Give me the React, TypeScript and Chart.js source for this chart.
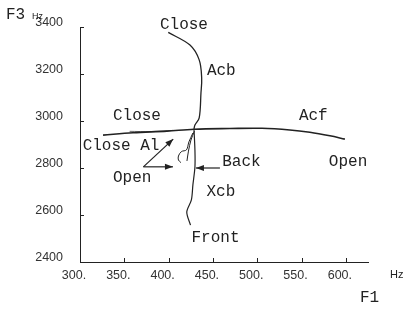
import React, { useEffect, useRef } from "react";
import { Chart, registerables } from "chart.js";

Chart.register(...registerables);

// F1 (Hz) / F3 (Hz) traces
const acbF1 = [399.6, 424.1, 434.5, 437.3, 436.5, 434.5, 429.7, 428.6];
const acbF3 = [3377, 3323, 3260, 3183, 3119, 3013, 2983, 2966];

const alfF1 = [326, 359.8, 398.1, 428.6, 469.2, 505.3, 536.8, 559.4, 582, 598.9];
const alfF3 = [2940, 2950, 2957, 2965, 2968, 2969, 2962, 2952, 2937, 2923];

const alDoubleF1 = [356, 380, 405];
const alDoubleF3 = [2956, 2955, 2960];

const xcbF1 = [428.6, 429.7, 429.7, 427.4, 425.7, 420.5, 424.7];
const xcbF3 = [2966, 2877, 2804, 2728, 2664, 2613, 2557];

const wiggle1F1 = [429.1, 425.2, 422.4, 420.7];
const wiggle1F3 = [2957, 2919, 2872, 2830];

const wiggle2F1 = [427.4, 422.9, 420.1, 414.5, 411.1, 411.1, 413.9];
const wiggle2F3 = [2949, 2911, 2877, 2870, 2851, 2834, 2823];

const arrowUpF1 = [371.5, 405.2];
const arrowUpF3 = [2805, 2923];
const arrowRightF1 = [371.5, 404.9];
const arrowRightF3 = [2805, 2805];
const arrowBackF1 = [457.9, 430.8];
const arrowBackF3 = [2800, 2800];

const xTickValues = [300, 350, 400, 450, 500, 550, 600];
const yTickValues = [2400, 2600, 2800, 3000, 3200, 3400];

const noteTexts = ["Close", "Acb", "Close", "Acf", "Close Al", "Open", "Back", "Open", "Xcb", "Front"];
const noteF1 = [390.2, 443.2, 337.2, 547, 303, 337.2, 460.5, 580.8, 442.7, 425.8];
const noteF3 = [3408, 3213, 3022, 3022, 2894, 2760, 2827, 2827, 2699, 2501];

const zip = (a: number[], b: number[]) => a.map((x, i) => ({ x, y: b[i] }));

const INK = "#222";

export default function App() {
  const ref = useRef<HTMLCanvasElement | null>(null);
  useEffect(() => {
    if (!ref.current) return;
    document.body.style.margin = "0";

    const line = (xs: number[], ys: number[], w: number, tension: number, extra: any = {}) => ({
      data: zip(xs, ys),
      showLine: true,
      borderColor: INK,
      borderWidth: w,
      pointRadius: 0,
      tension,
      fill: false,
      ...extra,
    });

    const decorPlugin = {
      id: "decor",
      afterDatasetsDraw(chart: any) {
        const ctx = chart.ctx;
        const xs = chart.scales.x;
        const ys = chart.scales.y;
        const area = chart.chartArea;
        ctx.save();
        // inward tick marks
        ctx.strokeStyle = INK;
        ctx.lineWidth = 1;
        ctx.beginPath();
        xTickValues.forEach((v) => {
          if (v === xs.min) return;
          const px = Math.round(xs.getPixelForValue(v)) + 0.5;
          ctx.moveTo(px, area.bottom);
          ctx.lineTo(px, area.bottom - 4);
        });
        yTickValues.forEach((v) => {
          if (v === ys.min) return;
          const py = Math.round(ys.getPixelForValue(v)) + 0.5;
          ctx.moveTo(area.left, py);
          ctx.lineTo(area.left + 4, py);
        });
        ctx.stroke();

        // arrowheads
        chart.data.datasets.forEach((ds: any, i: number) => {
          if (!ds.arrow) return;
          const pts = chart.getDatasetMeta(i).data;
          const a = pts[pts.length - 2];
          const b = pts[pts.length - 1];
          const ang = Math.atan2(b.y - a.y, b.x - a.x);
          const L = 8, W = 3;
          ctx.fillStyle = INK;
          ctx.beginPath();
          ctx.moveTo(b.x, b.y);
          ctx.lineTo(b.x - L * Math.cos(ang) + W * Math.sin(ang), b.y - L * Math.sin(ang) - W * Math.cos(ang));
          ctx.lineTo(b.x - L * Math.cos(ang) - W * Math.sin(ang), b.y - L * Math.sin(ang) + W * Math.cos(ang));
          ctx.closePath();
          ctx.fill();
        });

        // annotations
        ctx.fillStyle = INK;
        ctx.font = "16px 'Liberation Mono'";
        ctx.textAlign = "left";
        ctx.textBaseline = "middle";
        noteTexts.forEach((t, i) => {
          ctx.fillText(t, xs.getPixelForValue(noteF1[i]), ys.getPixelForValue(noteF3[i]));
        });

        // axis titles
        ctx.font = "16px 'Liberation Mono'";
        ctx.fillText("F3", area.left - 74, area.top - 12);
        ctx.fillText("F1", area.right - 8, area.bottom + 36);
        ctx.font = "9px 'Liberation Sans'";
        ctx.fillText("Hz", area.left - 48, area.top - 10);
        ctx.font = "11px 'Liberation Sans'";
        ctx.fillText("Hz", area.right + 22, area.bottom + 13);
        ctx.restore();
      },
    };

    const chart = new Chart(ref.current, {
      type: "scatter",
      data: {
        datasets: [
          line(acbF1, acbF3, 1.3, 0.35),
          line(alfF1, alfF3, 1.6, 0.35),
          line(alDoubleF1, alDoubleF3, 1, 0.3, { borderColor: "#666" }),
          line(xcbF1, xcbF3, 1.2, 0.3),
          line(wiggle1F1, wiggle1F3, 1, 0.3),
          line(wiggle2F1, wiggle2F3, 1, 0.35),
          line(arrowUpF1, arrowUpF3, 1.2, 0, { arrow: true }),
          line(arrowRightF1, arrowRightF3, 1.2, 0, { arrow: true }),
          line(arrowBackF1, arrowBackF3, 1.2, 0, { arrow: true }),
        ] as any,
      },
      options: {
        animation: false,
        responsive: false,
        devicePixelRatio: 1,
        layout: { padding: { left: 0, top: 27, right: 37, bottom: 0 } },
        plugins: { legend: { display: false }, tooltip: { enabled: false } },
        scales: {
          x: {
            type: "linear",
            min: 300,
            max: 625,
            afterBuildTicks: (s: any) => {
              s.ticks = xTickValues.map((v) => ({ value: v }));
            },
            afterFit: (s: any) => {
              s.height = 48;
            },
            grid: { display: true, drawOnChartArea: false, drawTicks: false },
            border: { display: true, color: INK, width: 1 },
            ticks: {
              color: "#333",
              font: { family: "'Liberation Sans'", size: 12.5 },
              padding: 6,
              labelOffset: -6,
              maxRotation: 0,
              callback: (v: any) => `${v}.`,
            },
          },
          y: {
            type: "linear",
            min: 2400,
            max: 3400,
            afterBuildTicks: (s: any) => {
              s.ticks = yTickValues.map((v) => ({ value: v }));
            },
            afterFit: (s: any) => {
              s.width = 80;
            },
            grid: { display: true, drawOnChartArea: false, drawTicks: false },
            border: { display: true, color: INK, width: 1 },
            ticks: {
              color: "#333",
              font: { family: "'Liberation Sans'", size: 12.5 },
              padding: 17,
              labelOffset: -4,
              callback: (v: any) => `${v}`,
            },
          },
        },
      } as any,
      plugins: [decorPlugin],
    });
    return () => chart.destroy();
  }, []);

  return (
    <div style={{ position: "absolute", left: 0, top: 0, width: 405, height: 310, background: "#fff" }}>
      <canvas ref={ref} width={405} height={310} style={{ width: 405, height: 310 }} />
    </div>
  );
}
